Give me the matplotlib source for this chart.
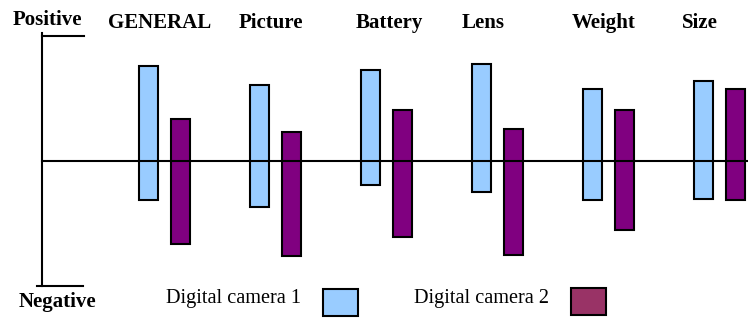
import matplotlib.pyplot as plt
from matplotlib.patches import Rectangle

plt.rcParams['font.family'] = ['Liberation Serif', 'DejaVu Serif']

categories = ['GENERAL', 'Picture', 'Battery', 'Lens', 'Weight', 'Size']
series = ['Digital camera 1', 'Digital camera 2']

# percent, positive above the axis, negative below
cam1_top = [76, 61, 73, 78, 58, 64]
cam1_bottom = [-31, -37, -19, -25, -31, -30]
cam2_top = [34, 23, 41, 26, 41, 58]
cam2_bottom = [-66, -76, -61, -75, -55, -31]

# layout
label_dx = [-0.04, -0.045, 0.03, -0.126, -0.04, -0.18]
bar_w = 0.171
offset = 0.144
c1 = '#99CCFF'
c2 = '#800080'
c2_legend = '#993366'

fig = plt.figure(figsize=(7.48, 3.18), dpi=100)
ax = fig.add_axes([0, 0, 1, 1])
ax.set_xlim(-1.482, 5.257)
ax.set_ylim(-125.6, 128.8)
ax.axis('off')

x = list(range(len(categories)))
h1 = [t - b for t, b in zip(cam1_top, cam1_bottom)]
h2 = [t - b for t, b in zip(cam2_top, cam2_bottom)]
ax.bar([i - offset for i in x], h1, bottom=cam1_bottom, width=bar_w,
       color=c1, edgecolor='black', linewidth=1.5, zorder=2)
ax.bar([i + offset for i in x], h2, bottom=cam2_bottom, width=bar_w,
       color=c2, edgecolor='black', linewidth=1.5, zorder=2)

# axes lines
ax.plot([-1.104, -1.104], [102.4, -100], color='black', lw=1.5, zorder=3)
ax.plot([-1.104, 5.257], [0, 0], color='black', lw=1.5, zorder=3)
ax.plot([-1.104, -0.725], [100, 100], color='black', lw=1.5, zorder=3)
ax.plot([-1.149, -0.734], [-100, -100], color='black', lw=1.5, zorder=3)

for i, name in enumerate(categories):
    ax.text(i + label_dx[i], 110.5, name, ha='center', va='center',
            fontsize=15, fontweight='bold')

fig.text(47 / 748, 1 - 20 / 318, 'Positive', ha='center', va='center',
         fontsize=15, fontweight='bold')
fig.text(57 / 748, 1 - 302 / 318, 'Negative', ha='center', va='center',
         fontsize=15, fontweight='bold')

# legend
fig.text(234 / 748, 1 - 299 / 318, series[0], ha='center', va='center', fontsize=14.6)
fig.text(481 / 748, 1 - 299 / 318, series[1], ha='center', va='center', fontsize=14.6)
fig.patches.append(Rectangle((323 / 748, 2 / 318), 35 / 748, 27 / 318,
                             transform=fig.transFigure, facecolor=c1,
                             edgecolor='black', linewidth=1.5))
fig.patches.append(Rectangle((571 / 748, 3 / 318), 35 / 748, 27 / 318,
                             transform=fig.transFigure, facecolor=c2_legend,
                             edgecolor='black', linewidth=1.5))

fig.savefig('out.png', dpi=100)
